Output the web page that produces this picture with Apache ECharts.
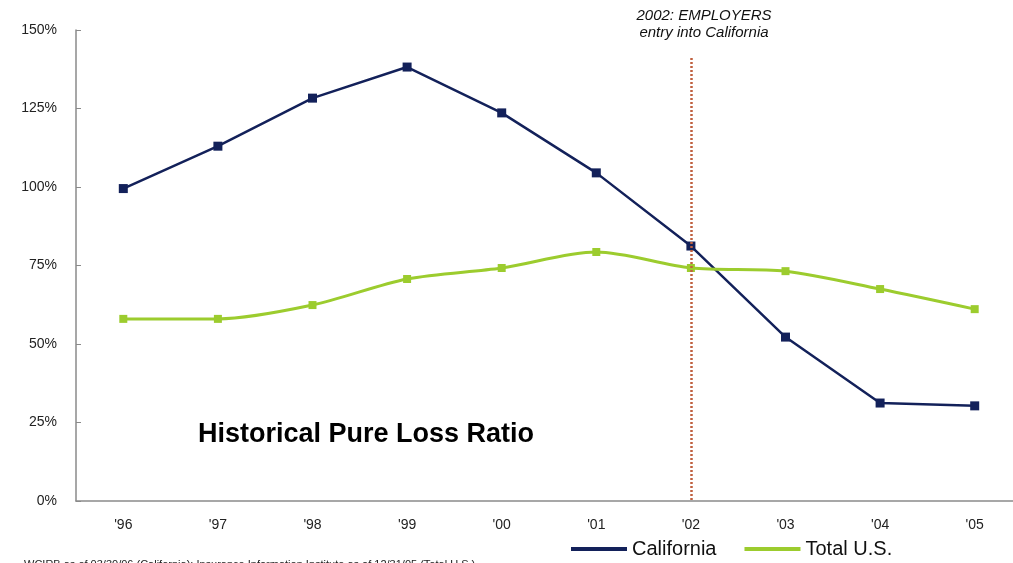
<!DOCTYPE html>
<html>
<head>
<meta charset="utf-8">
<script src="https://cdn.jsdelivr.net/npm/echarts@6/dist/echarts.min.js"></script>
<style>
  html, body { margin: 0; padding: 0; background: #fff; overflow: hidden; }
  #chart { width: 1022px; height: 563px; }
</style>
</head>
<body>
<div id="chart"></div>
<script>
const years = ["'96", "'97", "'98", "'99", "'00", "'01", "'02", "'03", "'04", "'05"];
const california = [99.5, 113, 128.3, 138.2, 123.6, 104.5, 81.2, 52.2, 31.2, 30.3];
const totalUS = [58, 58, 62.4, 70.7, 74.2, 79.3, 74.2, 73.2, 67.5, 61.1];
const entryYear = "'02";

const font = 'Liberation Sans, Arial, sans-serif';

const chart = echarts.init(document.getElementById('chart'));
chart.setOption({
  animation: false,
  textStyle: { fontFamily: font },
  grid: { left: 76, right: 0, top: 30, bottom: 62 },
  legend: {
    left: 566,
    top: 534,
    itemWidth: 56,
    itemHeight: 4,
    itemGap: 28,
    icon: 'rect',
    textStyle: { fontSize: 20, color: '#111', fontFamily: font },
    data: ['California', 'Total U.S.'],
  },
  xAxis: {
    type: 'category',
    data: years,
    axisLine: { lineStyle: { color: '#8a8a8a', width: 1.5 } },
    axisTick: { inside: true, length: 5, lineStyle: { color: '#8a8a8a' } },
    axisLabel: { color: '#222', fontSize: 14, margin: 17 },
  },
  yAxis: {
    type: 'value',
    min: 0,
    max: 150,
    interval: 25,
    splitLine: { show: false },
    axisLine: { show: true, lineStyle: { color: '#8a8a8a', width: 1.5 } },
    axisTick: { show: true, inside: true, length: 5, lineStyle: { color: '#8a8a8a' } },
    axisLabel: { color: '#222', fontSize: 14, margin: 19, formatter: '{value}%' },
  },
  series: [
    {
      name: 'California',
      type: 'line',
      data: california,
      color: '#13215a',
      symbol: 'rect',
      symbolSize: 9,
      lineStyle: { width: 2.5 },
      markLine: {
        silent: true,
        symbol: 'none',
        label: { show: false },
        lineStyle: { color: '#c0603f', type: [2, 2], width: 2.5 },
        data: [[{ xAxis: entryYear, y: 58 }, { xAxis: entryYear, yAxis: 0 }]],
      },
    },
    {
      name: 'Total U.S.',
      type: 'line',
      data: totalUS,
      color: '#9ccc2e',
      smooth: 0.3,
      symbol: 'rect',
      symbolSize: 8,
      lineStyle: { width: 3 },
    },
  ],
  graphic: [
    {
      type: 'text',
      x: 704,
      y: 7,
      style: {
        text: '2002: EMPLOYERS\nentry into California',
        font: 'italic 15px ' + font,
        fill: '#111',
        textAlign: 'center',
        lineHeight: 17,
      },
    },
    {
      type: 'text',
      left: 198,
      top: 421,
      style: {
        text: 'Historical Pure Loss Ratio',
        font: 'bold 27px ' + font,
        fill: '#000',
      },
    },
    {
      type: 'text',
      left: 24,
      top: 559,
      style: {
        text: 'WCIRB as of 03/30/06 (California); Insurance Information Institute as of 12/31/05 (Total U.S.)',
        font: '11px ' + font,
        fill: '#222',
      },
    },
  ],
});
</script>
</body>
</html>
